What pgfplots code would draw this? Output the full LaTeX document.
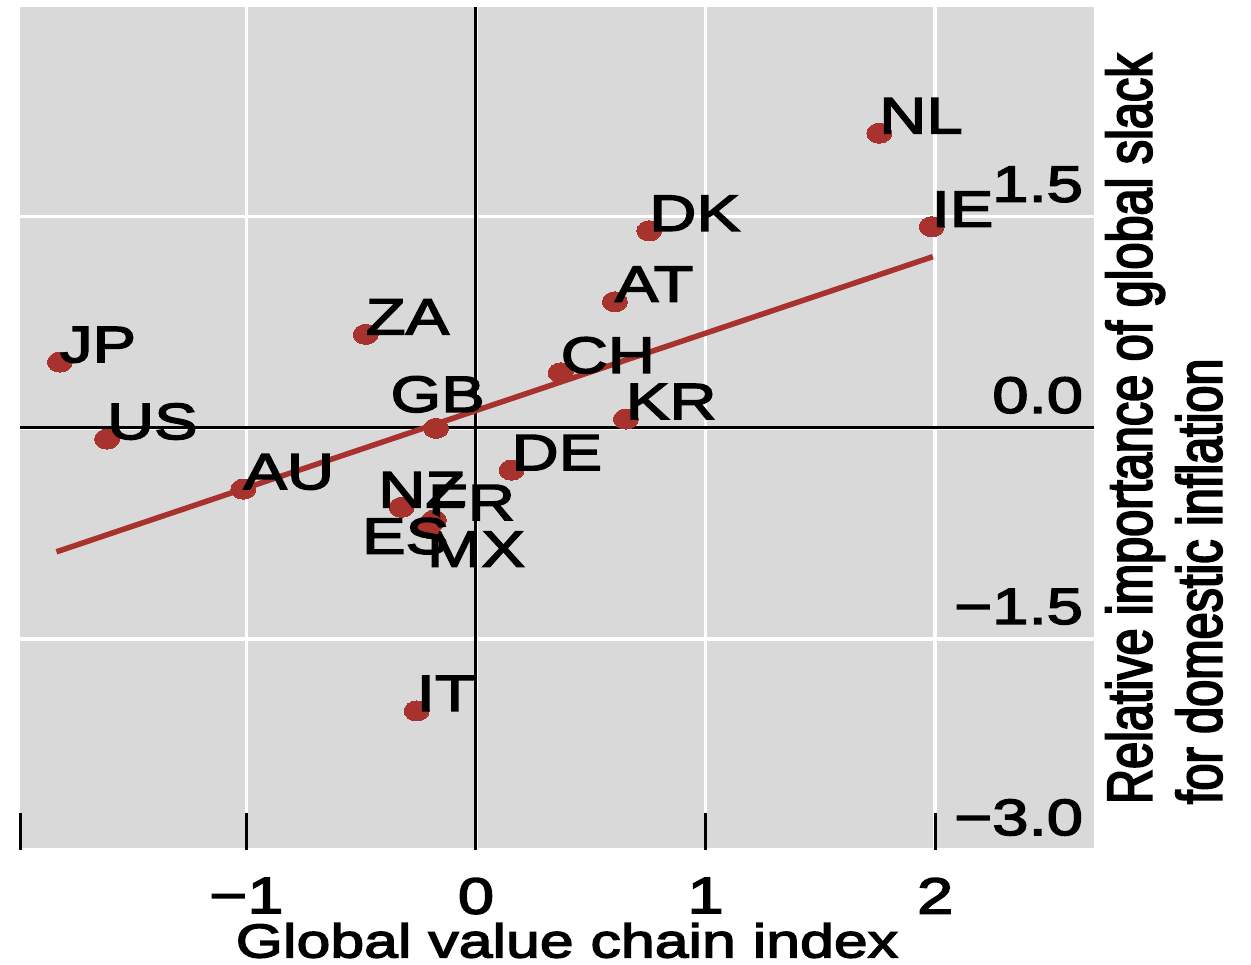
\documentclass[border=0pt]{standalone}
\usepackage{pgfplots}
\pgfplotsset{compat=1.18}
\usepackage{fontspec}
\setmainfont[FakeStretch=1.28, FakeBold=3]{Liberation Sans}
\newfontfamily\vfont[FakeStretch=0.765, FakeBold=3]{Liberation Sans}
\definecolor{ptred}{RGB}{168,50,46}
\definecolor{bggray}{RGB}{217,217,217}
\begin{document}
\begin{tikzpicture}
\begin{axis}[
  scale only axis,
  width=214.8pt, height=168.6pt,
  xmin=-1.986, xmax=2.692, ymin=-3, ymax=2.99,
  axis background/.style={fill=bggray},
  axis line style={draw=none},
  xtick={-1,0,1,2},
  xticklabels={−1,0,1,2},
  extra x ticks={-1.986},
  extra x tick labels={},
  extra x tick style={grid=none},
  ytick={-3,-1.5,0,1.5},
  yticklabels={−3.0,−1.5,0.0,1.5},
  grid=major,
  major grid style={white, line width=0.7pt},
  xtick pos=left, ytick pos=right, yticklabel pos=right,
  xtick align=inside,
  major tick length=7.4pt,
  xtick style={black, line width=0.6pt},
  ytick style={draw=none},
  xticklabel style={font=\fontsize{10.2}{12}\selectfont, inner sep=0pt, anchor=north, yshift=-5.4pt},
  yticklabel style={font=\fontsize{10.2}{12}\selectfont, inner sep=0pt, anchor=south east, xshift=-2pt, yshift=2.7pt},
  xlabel={Global value chain index},
  every axis x label/.style={at={(axis description cs:0.5,0)}, anchor=north, inner sep=0pt, yshift=-14.4pt, xshift=2pt, font=\fontsize{9.5}{11}\selectfont},
  ylabel={Relative importance of global slack\\for domestic inflation},
  every axis y label/.style={at={(axis description cs:1.0098,0.0534)}, rotate=90, anchor=north west, align=left, inner sep=0pt, font=\vfont\fontsize{12.7}{14}\selectfont},
  clip=false,
]
\draw[black, line width=0.6pt] (axis cs:0,-3) -- (axis cs:0,2.99);
\draw[black, line width=0.6pt] (axis cs:-1.986,0) -- (axis cs:2.692,0);
\addplot[ptred, line width=1.1pt] coordinates {(-1.827,-0.881) (1.990,1.216)};
\addplot[ptred, only marks, mark=*, mark size=2pt,
  mark options={fill=ptred, draw=ptred, line width=0pt, xscale=1.25},
  nodes near coords,
  point meta=explicit symbolic,
  visualization depends on={value \thisrow{dx} \as \dx},
  visualization depends on={value \thisrow{dy} \as \dy},
  every node near coord/.append style={anchor=base west, inner sep=0pt, xshift=\dx pt, yshift=\dy pt, font=\fontsize{10.2}{12}\selectfont, text=black},
] table[x=x, y=y, meta=label] {
label x y dx dy
NL 1.757 2.093 0 0
IE 1.985 1.429 0 0
DK 0.755 1.400 0 0
AT 0.605 0.896 0 0
CH 0.369 0.391 0 0
KR 0.653 0.062 0 0
ZA -0.480 0.664 0 0
GB -0.174 -0.004 -9.1 3.3
JP -1.812 0.467 0 0
US -1.607 -0.080 0 0
AU -1.013 -0.436 0 0
DE 0.155 -0.301 0 0
NZ -0.324 -0.565 -4.66 0
FR -0.183 -0.656 -1.2 0
MX -0.200 -0.685 -0.6 -8.5
ES -0.213 -0.713 -13 -5.1
IT -0.258 -2.012 0 0
};
\end{axis}
\pgfresetboundingbox
\path[use as bounding box] ([xshift=-4pt,yshift=-22.8pt]current axis.south west) rectangle ([xshift=31.4pt,yshift=1.4pt]current axis.north east);
\end{tikzpicture}
\end{document}
